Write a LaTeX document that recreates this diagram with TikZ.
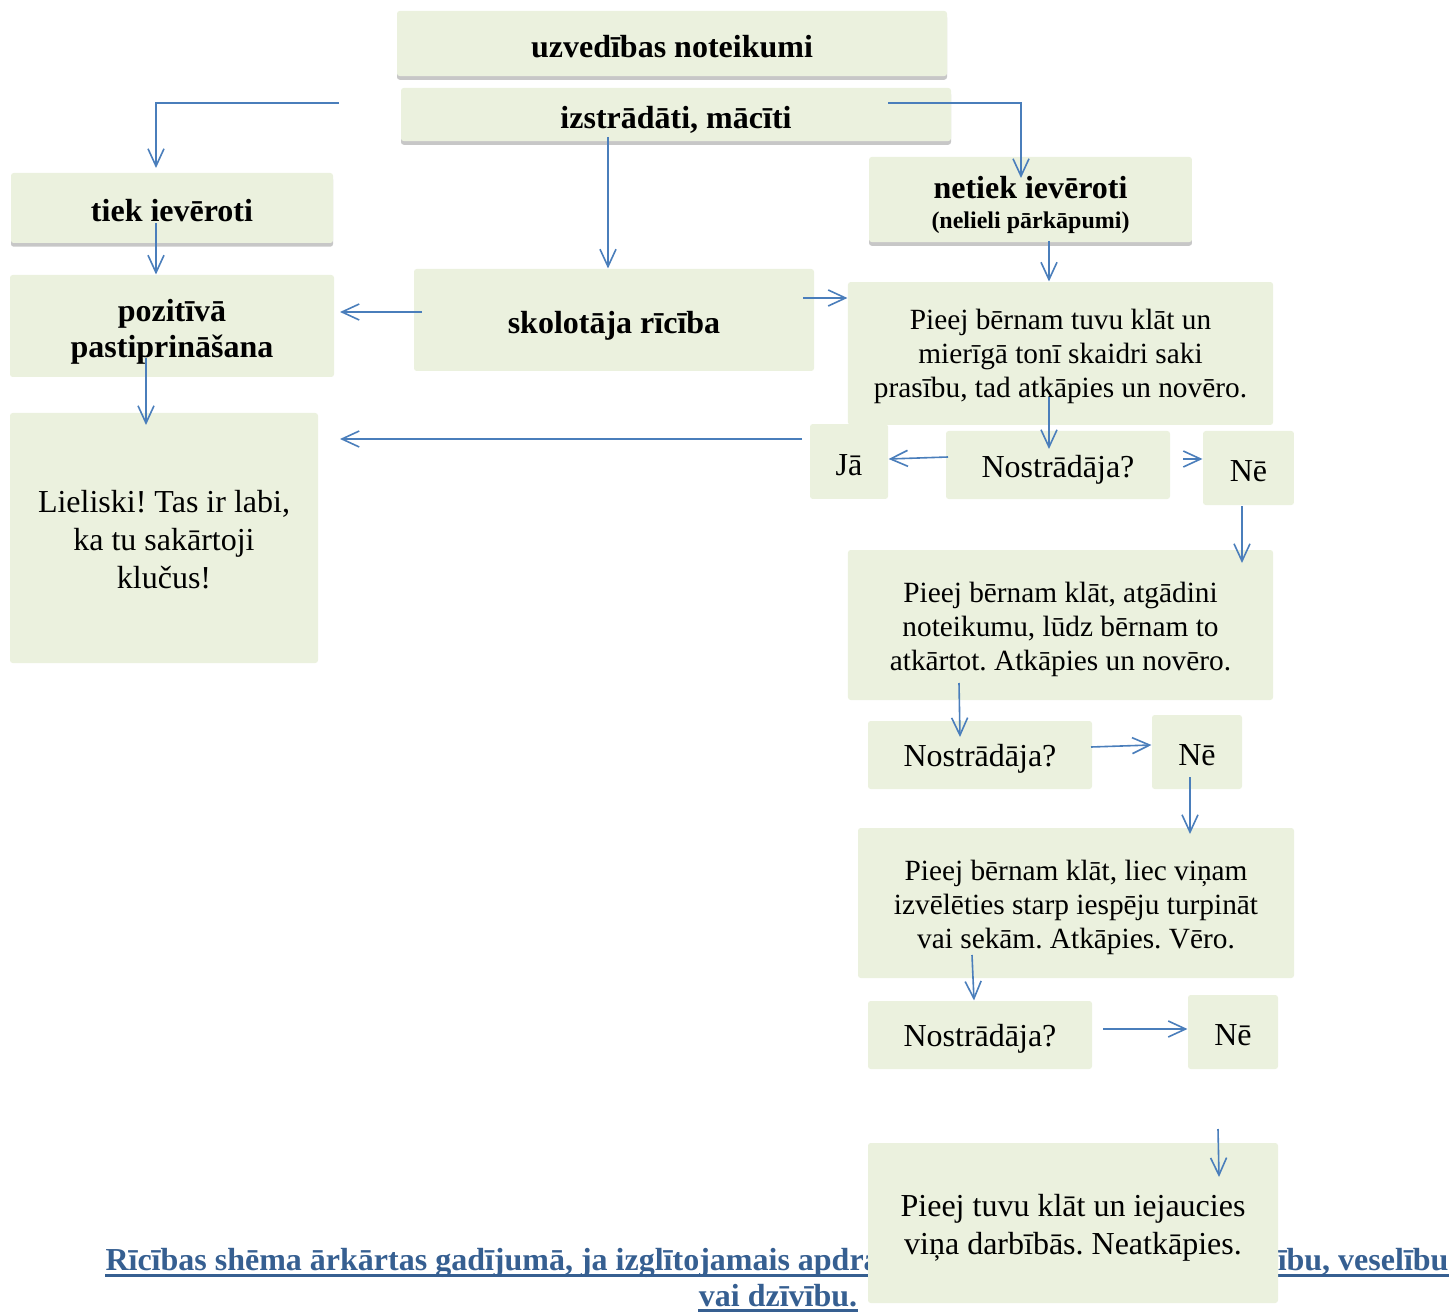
\documentclass[tikz,border=0pt]{standalone}
\usepackage{fontspec}
\setmainfont{Liberation Serif}
\usetikzlibrary{arrows.meta,shadows}
\definecolor{boxfill}{HTML}{EBF1DE}
\definecolor{arrowblue}{HTML}{4A7EBB}
\definecolor{titleblue}{HTML}{365F91}
\frenchspacing
\newcommand{\firststrut}[1]{\rule{0pt}{#1}}
\tikzset{
  lowered/.style={execute at begin node={\rule{0pt}{#1}}},
  box/.style={fill=boxfill, rounded corners=1pt, inner sep=0pt, align=center,
    font=\fontsize{12}{12.75}\selectfont, lowered=10.6pt},
  smallbox/.style={box, font=\fontsize{11}{12.75}\selectfont, lowered=0pt},
  boldbox/.style={box, font=\fontsize{12}{13.5}\selectfont\bfseries},
  shadowed/.style={drop shadow={shadow xshift=0pt, shadow yshift=-1.4pt, fill=black!40, opacity=0.55}},
  arr/.style={draw=arrowblue, line width=0.6pt, -{Straight Barb[length=6.5pt,width=6pt]}},
  heading/.style={text=titleblue, font=\fontsize{12}{14}\selectfont\bfseries, inner sep=0pt},
  underl/.style={draw=titleblue, line width=1.1pt}
}
\begin{document}
\begin{tikzpicture}[x=0.375pt,y=-0.375pt]
  \useasboundingbox (0,0) rectangle (1453,1312);
  % top
  \node[boldbox, shadowed, lowered=9.2pt, minimum width=206.25pt, minimum height=24.4pt] (rules) at (672,43.5) {uzvedības noteikumi};
  \node[boldbox, shadowed, lowered=12.7pt, minimum width=206.25pt, minimum height=19.9pt] (taught) at (676,114.5) {izstrādāti, mācīti};
  \node[boldbox, shadowed, lowered=9.8pt, minimum width=120.75pt, minimum height=26.25pt] (kept) at (172,208) {tiek ievēroti};
  \node[boldbox, shadowed, lowered=0pt, minimum width=121.1pt, minimum height=31.9pt] (notkept) at (1030.5,199.5)
    {\firststrut{12.4pt}netiek ievēroti\\[-2.2pt]{\fontsize{9}{10}\selectfont (nelieli pārkāpumi)}};
  % middle row
  \node[boldbox, lowered=0pt, minimum width=121.5pt, minimum height=38.25pt] (praise) at (172,326)
    {\firststrut{12.4pt}pozitīvā\\pastiprināšana};
  \node[boldbox, lowered=12.7pt, minimum width=150pt, minimum height=38.25pt] (teacher) at (614,320) {skolotāja rīcība};
  \node[smallbox, minimum width=159.4pt, minimum height=53.6pt] (step1) at (1060.5,353.5)
    {\firststrut{10.2pt}Pieej bērnam tuvu klāt un\\mierīgā tonī skaidri saki\\prasību, tad atkāpies un novēro.};
  \node[box, font=\fontsize{12}{14.25}\selectfont, lowered=0pt, minimum width=115.5pt, minimum height=93.75pt] (great) at (164,538)
    {\firststrut{9.6pt}Lieliski! Tas ir labi,\\ka tu sakārtoji\\klučus!};
  % first check
  \node[box, lowered=9.8pt, minimum width=29.25pt, minimum height=28.1pt] (yes1) at (849,461.5) {Jā};
  \node[box, lowered=12pt, minimum width=84pt, minimum height=25.5pt] (check1) at (1058,465) {Nostrādāja?};
  \node[box, minimum width=34.1pt, minimum height=27.75pt] (no1) at (1248.5,468) {Nē};
  \node[smallbox, minimum width=159.4pt, minimum height=56.25pt] (step2) at (1060.5,625)
    {\firststrut{10.6pt}Pieej bērnam klāt, atgādini\\noteikumu, lūdz bērnam to\\atkārtot. Atkāpies un novēro.};
  % second check
  \node[box, lowered=11pt, minimum width=84pt, minimum height=25.5pt] (check2) at (980,755) {Nostrādāja?};
  \node[box, minimum width=33.75pt, minimum height=27.75pt] (no2) at (1197,752) {Nē};
  \node[smallbox, minimum width=163.5pt, minimum height=56.25pt] (step3) at (1076,903)
    {\firststrut{10.6pt}Pieej bērnam klāt, liec viņam\\izvēlēties starp iespēju turpināt\\vai sekām. Atkāpies. Vēro.};
  % third check
  \node[box, lowered=11pt, minimum width=84pt, minimum height=25.5pt] (check3) at (980,1035) {Nostrādāja?};
  \node[box, minimum width=33.75pt, minimum height=27.75pt] (no3) at (1233,1032) {Nē};
  % heading under the chart
  \node[heading, anchor=base west] (headleft) at (105,1270)
    {Rīcības shēma ārkārtas gadījumā, ja izglītojamais apdra};
  \node[heading, anchor=base east] (headright) at (1449,1270) {ību, veselību};
  \node[heading, anchor=base] (headline2) at (778,1306) {vai dzīvību.};
  \draw[underl] ([yshift=-2pt]headleft.base west) -- ([yshift=-2pt]headleft.base east);
  \draw[underl] ([yshift=-2pt]headright.base west) -- ([yshift=-2pt]headright.base east);
  \draw[underl] ([yshift=-1.6pt]headline2.base west) -- ([yshift=-1.6pt]headline2.base east);
  \node[box, font=\fontsize{12}{14.25}\selectfont, lowered=0pt, minimum width=153.75pt, minimum height=60pt] (step4) at (1073,1223)
    {\firststrut{12pt}Pieej tuvu klāt un iejaucies\\viņa darbībās. Neatkāpies.};
  % connectors
  \coordinate (leftstart) at (339,103);
  \coordinate (leftend) at (156,168);
  \draw[arr] (leftstart) -| (leftend);
  \coordinate (rightstart) at (888,103);
  \coordinate (rightend) at (1021,178);
  \draw[arr] (rightstart) -| (rightend);
  \coordinate (taughtout) at (608,137);
  \draw[arr] (taughtout) -- (taughtout |- teacher.north);
  \coordinate (keptout) at (156,223);
  \draw[arr] (keptout) -- (keptout |- praise.north);
  \coordinate (notkeptout) at (1049,241);
  \draw[arr] (notkeptout) -- (notkeptout |- step1.north);
  \coordinate (teacherleft) at (422,312);
  \coordinate (praisein) at (340,312);
  \draw[arr] (teacherleft) -- (praisein);
  \coordinate (teacherright) at (803,298);
  \draw[arr] (teacherright) -- (teacherright -| step1.west);
  \coordinate (praiseout) at (146,358);
  \coordinate (greatin) at (146,425);
  \draw[arr] (praiseout) -- (greatin);
  \coordinate (yesback) at (802,439);
  \coordinate (greatright) at (340,439);
  \draw[arr] (yesback) -- (greatright);
  \coordinate (step1out) at (1049,397);
  \coordinate (check1in) at (1049,449);
  \draw[arr] (step1out) -- (check1in);
  \coordinate (check1left) at (948,457);
  \draw[arr] (check1left) -- (yes1.east |- 0,459);
  \coordinate (check1right) at (1183,459);
  \draw[arr] (check1right) -- (check1right -| no1.west);
  \coordinate (no1out) at (1242,506);
  \coordinate (step2in) at (1242,563);
  \draw[arr] (no1out) -- (step2in);
  \coordinate (step2out) at (959,683);
  \coordinate (check2in) at (960,737);
  \draw[arr] (step2out) -- (check2in);
  \coordinate (check2right) at (1091,747);
  \draw[arr] (check2right) -- (no2.west |- 0,745);
  \coordinate (no2out) at (1190,777);
  \coordinate (step3in) at (1190,834);
  \draw[arr] (no2out) -- (step3in);
  \coordinate (step3out) at (972,955);
  \draw[arr] (step3out) -- (check3.north -| 974,0);
  \coordinate (check3right) at (1103,1029);
  \draw[arr] (check3right) -- (check3right -| no3.west);
  \coordinate (step4top) at (1218,1129);
  \coordinate (step4in) at (1219,1177);
  \draw[arr] (step4top) -- (step4in);
\end{tikzpicture}
\end{document}
